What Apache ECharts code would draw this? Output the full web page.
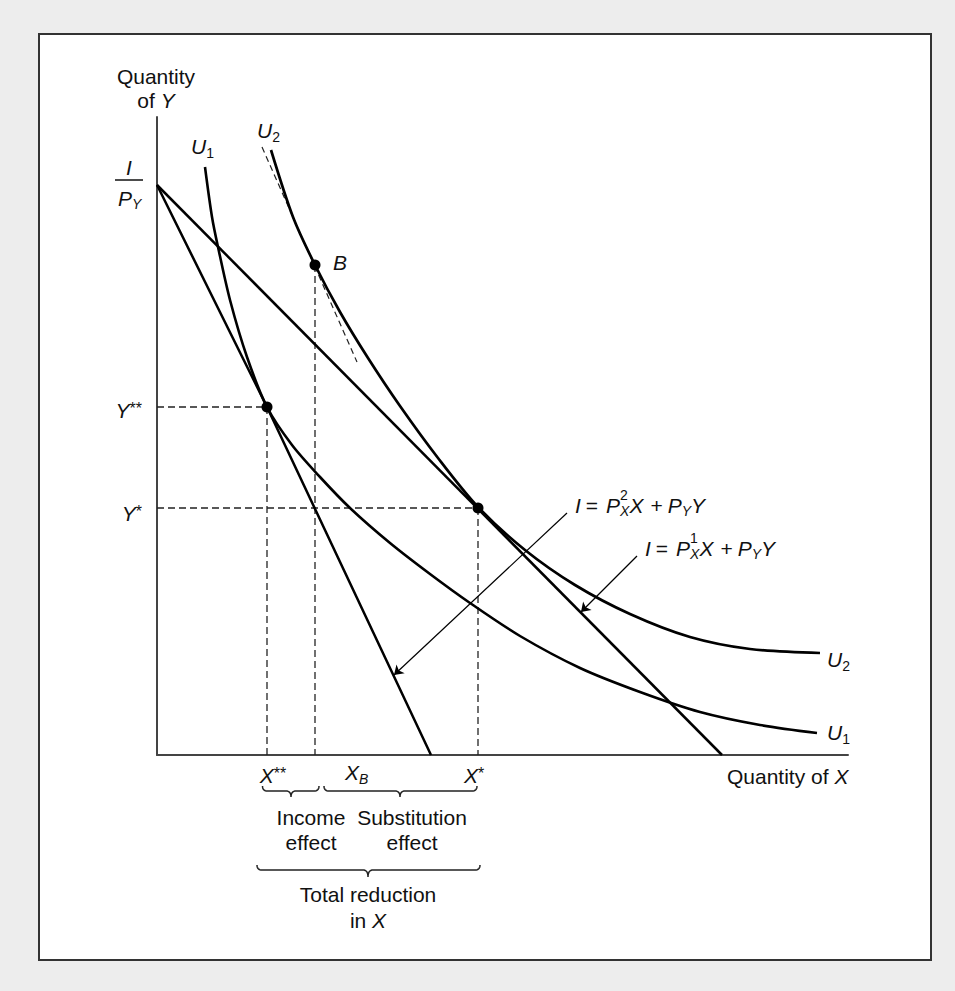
<!DOCTYPE html>
<html><head><meta charset="utf-8">
<script src="https://cdn.jsdelivr.net/npm/echarts@6/dist/echarts.min.js"></script>
<style>html,body{margin:0;padding:0;background:#ededed}#c{width:955px;height:991px}</style>
</head><body><div id="c"></div>
<script>
// ---- data (x = units of X, y = units of Y) ----
const budgetLine1 = [[0, 570], [565, 0]];              // I = P_X^1 X + P_Y Y
const budgetLine2 = [[0, 570], [110, 348], [274, 0]];  // I = P_X^2 X + P_Y Y
const curveU1 = [[48,588],[55,538],[61,508],[73,455],[90,398],[110,348],[135,310],[163,278],[193,247],[233,212],[273,181],[313,152],[363,119],[423,87],[483,63],[543,43],[603,30],[660,22]];
const curveU2 = [[114,605],[136,538],[158,490],[183,443],[211,397],[243,349],[281,297],[321,248],[368,205],[418,170],[473,141],[533,118],[593,106],[663,102]];
const tangentAtB = [[105,608],[200,393]];
const pointNew = [110, 348];   // X**, Y**
const pointB = [158, 490];     // X_B
const pointOld = [321, 247];   // X*, Y*
const arrowToLine2 = [[410,242],[237,80]];
const arrowToLine1 = [[480,199],[424,143]];
const xMax = 691, yMax = 638;

const FF = '"Liberation Sans", Arial, Helvetica, sans-serif';
const ctx = document.createElement('canvas').getContext('2d');
function fstr(p){ return (p.it ? 'italic ' : '') + (p.size || 21) + 'px ' + FF; }
function row(x, y, pieces, align) {
  const w = pieces.map(p => { ctx.font = fstr(p); return ctx.measureText(p.t).width + (p.gap || 0); });
  let total = 0; pieces.forEach((p, i) => { if (!p.na) total += w[i]; });
  let cx = align === 'center' ? x - total / 2 : (align === 'right' ? x - total : x);
  const out = [];
  pieces.forEach((p, i) => {
    out.push({ type: 'text', x: cx, y: y + (p.dy || 0), z: 10,
      style: { text: p.t, fontSize: p.size || 21, fontFamily: FF, fontStyle: p.it ? 'italic' : 'normal',
               fill: '#111', align: 'left', verticalAlign: 'middle' } });
    if (!p.na) cx += w[i];
  });
  return out;
}
function equation(x, y, sup) {
  return row(x, y, [
    { t: 'I', it: true, gap: 5 }, { t: '=', gap: 8 }, { t: 'P', it: true },
    { t: sup, size: 14, dy: -10, na: true }, { t: 'X', it: true, size: 14, dy: 6 },
    { t: 'X', it: true, gap: 7 }, { t: '+', gap: 5 }, { t: 'P', it: true },
    { t: 'Y', it: true, size: 14, dy: 6 }, { t: 'Y', it: true }], 'left');
}
function quad(pts, a, c, b) {
  for (let k = 1; k <= 8; k++) {
    const t = k / 8, u = 1 - t;
    pts.push([u*u*a[0] + 2*u*t*c[0] + t*t*b[0], u*u*a[1] + 2*u*t*c[1] + t*t*b[1]]);
  }
}
function brace(x1, x2, xc, yEnd, yBar, yTip) {
  const r = 5, pts = [[x1, yEnd]];
  quad(pts, [x1, yEnd], [x1, yBar], [x1 + r, yBar]);
  pts.push([xc - r, yBar]);
  quad(pts, [xc - r, yBar], [xc, yBar], [xc, yTip]);
  quad(pts, [xc, yTip], [xc, yBar], [xc + r, yBar]);
  pts.push([x2 - r, yBar]);
  quad(pts, [x2 - r, yBar], [x2, yBar], [x2, yEnd]);
  return { type: 'polyline', z: 10, shape: { points: pts }, style: { fill: null, stroke: '#222', lineWidth: 1.5 } };
}

const graphics = [
  { type: 'rect', z: -10, shape: { x: 39, y: 34, width: 892, height: 926 }, style: { fill: '#fff', stroke: '#333', lineWidth: 2 } },
  ...row(156, 76, [{ t: 'Quantity' }], 'center'),
  ...row(156, 100, [{ t: 'of ' }, { t: 'Y', it: true }], 'center'),
  ...row(129, 167, [{ t: 'I', it: true }], 'center'),
  { type: 'line', z: 10, shape: { x1: 115, y1: 180, x2: 143, y2: 180 }, style: { stroke: '#111', lineWidth: 1.5 } },
  ...row(118, 198, [{ t: 'P', it: true }, { t: 'Y', it: true, size: 14, dy: 6 }], 'left'),
  ...row(191, 146, [{ t: 'U', it: true }, { t: '1', size: 14, dy: 7 }], 'left'),
  ...row(257, 130, [{ t: 'U', it: true }, { t: '2', size: 14, dy: 7 }], 'left'),
  ...row(333, 262, [{ t: 'B', it: true }], 'left'),
  ...row(142, 410, [{ t: 'Y', it: true }, { t: '**', size: 16, dy: -2 }], 'right'),
  ...row(142, 513, [{ t: 'Y', it: true }, { t: '*', size: 16, dy: -2 }], 'right'),
  ...row(273, 775, [{ t: 'X', it: true }, { t: '**', size: 16, dy: -2 }], 'center'),
  ...row(345, 772, [{ t: 'X', it: true }, { t: 'B', it: true, size: 14, dy: 7 }], 'left'),
  ...row(474, 775, [{ t: 'X', it: true }, { t: '*', size: 16, dy: -2 }], 'center'),
  brace(262.5, 319, 291, 786, 791, 797),
  brace(324, 477, 400, 786, 791, 797),
  brace(257, 480, 368, 865, 870, 877),
  ...row(311, 817, [{ t: 'Income' }], 'center'),
  ...row(311, 842, [{ t: 'effect' }], 'center'),
  ...row(412, 817, [{ t: 'Substitution' }], 'center'),
  ...row(412, 842, [{ t: 'effect' }], 'center'),
  ...row(368, 894, [{ t: 'Total reduction' }], 'center'),
  ...row(368, 920, [{ t: 'in ' }, { t: 'X', it: true }], 'center'),
  ...equation(575, 505, '2'),
  ...equation(645, 548, '1'),
  ...row(827, 659, [{ t: 'U', it: true }, { t: '2', size: 14, dy: 7 }], 'left'),
  ...row(827, 732, [{ t: 'U', it: true }, { t: '1', size: 14, dy: 7 }], 'left'),
  ...row(727, 776, [{ t: 'Quantity of ' }, { t: 'X', it: true }], 'left')
];

const dashStyle = { color: '#222', width: 1.3, type: [7, 4] };
function guide(p) {
  return [
    { type: 'line', data: [[0, p[1]], p], symbol: 'none', lineStyle: dashStyle, z: 1 },
    { type: 'line', data: [p, [p[0], 0]], symbol: 'none', lineStyle: dashStyle, z: 1 }
  ];
}

const chart = echarts.init(document.getElementById('c'), null, { renderer: 'svg' });
chart.setOption({
  animation: false,
  backgroundColor: '#ededed',
  grid: { left: 157, top: 117, width: xMax, height: yMax },
  xAxis: { type: 'value', min: 0, max: xMax, axisLine: { onZero: false, lineStyle: { color: '#444', width: 2 } }, axisTick: { show: false }, axisLabel: { show: false }, splitLine: { show: false } },
  yAxis: { type: 'value', min: 0, max: yMax, axisLine: { show: true, onZero: false, lineStyle: { color: '#444', width: 2 } }, axisTick: { show: false }, axisLabel: { show: false }, splitLine: { show: false } },
  graphic: graphics,
  series: [
    ...guide(pointNew),
    ...guide(pointOld),
    { type: 'line', data: [pointB, [pointB[0], 0]], symbol: 'none', lineStyle: dashStyle, z: 1 },
    { type: 'line', data: tangentAtB, symbol: 'none', lineStyle: { color: '#222', width: 1.2, type: [6, 4] }, z: 1 },
    { type: 'line', data: budgetLine1, symbol: 'none', lineStyle: { color: '#000', width: 2.5 }, z: 3 },
    { type: 'line', data: budgetLine2, symbol: 'none', lineStyle: { color: '#000', width: 2.5 }, z: 3 },
    { type: 'line', data: curveU1, smooth: 0.3, symbol: 'none', lineStyle: { color: '#000', width: 2.6 }, z: 3 },
    { type: 'line', data: curveU2, smooth: 0.3, symbol: 'none', lineStyle: { color: '#000', width: 2.7 }, z: 3 },
    { type: 'lines', coordinateSystem: 'cartesian2d', symbol: ['none', 'arrow'], symbolSize: 9,
      lineStyle: { color: '#000', width: 1.2, opacity: 1 },
      data: [{ coords: arrowToLine2 }, { coords: arrowToLine1 }], z: 4 },
    { type: 'scatter', data: [pointNew, pointB, pointOld], symbolSize: 11, itemStyle: { color: '#000', opacity: 1 }, z: 5 }
  ]
});
</script></body></html>
